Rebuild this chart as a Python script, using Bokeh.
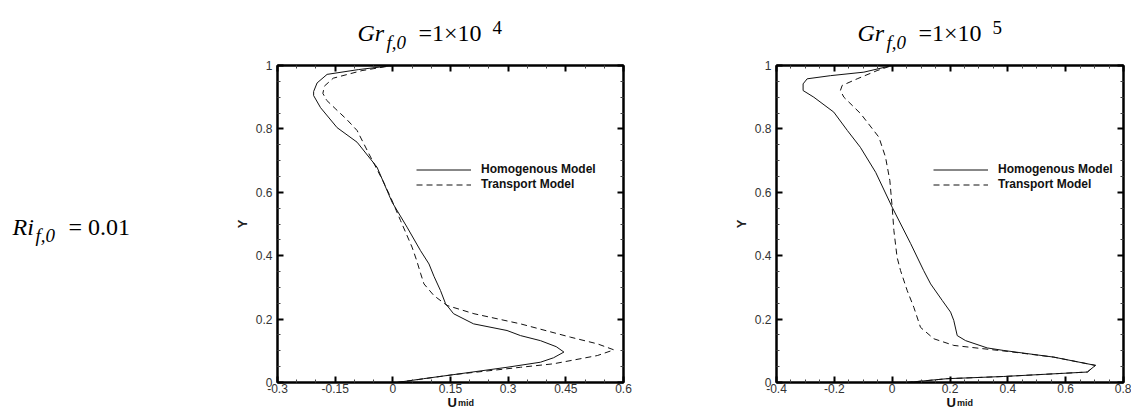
from bokeh.plotting import figure
from bokeh.models import (Range1d, FixedTicker, LinearAxis, CustomJSTickFormatter,
                          Legend, LegendItem)
from bokeh.layouts import row, column
from bokeh.core.properties import value
from bokeh.embed import file_html
from bokeh.resources import INLINE

# ---------------- data ----------------
LEFT_HOM_U = [0.01, 0.08, 0.159, 0.297, 0.384, 0.418, 0.445, 0.425, 0.384, 0.332, 0.297, 0.21,
              0.158, 0.137, 0.124, 0.107, 0.094, 0.072, 0.037, -0.002, -0.041, -0.093, -0.145,
              -0.188, -0.206, -0.206, -0.197, -0.171, -0.09, 0.0]
LEFT_HOM_Y = [0.0, 0.012, 0.025, 0.048, 0.064, 0.078, 0.096, 0.113, 0.132, 0.148, 0.164, 0.185,
              0.217, 0.249, 0.29, 0.335, 0.374, 0.416, 0.49, 0.569, 0.679, 0.758, 0.804,
              0.867, 0.905, 0.918, 0.945, 0.972, 0.987, 1.0]

LEFT_TRA_U = [0.011, 0.159, 0.332, 0.418, 0.532, 0.575, 0.532, 0.462, 0.332, 0.211, 0.141, 0.107,
              0.081, 0.072, 0.062, 0.05, 0.02, -0.006, -0.026, -0.062, -0.093, -0.12, -0.148,
              -0.172, -0.182, -0.178, -0.155, -0.08, 0.0]
LEFT_TRA_Y = [0.0, 0.025, 0.048, 0.059, 0.085, 0.103, 0.122, 0.143, 0.185, 0.217, 0.243, 0.274,
              0.311, 0.345, 0.385, 0.427, 0.511, 0.585, 0.637, 0.721, 0.795, 0.83, 0.862,
              0.89, 0.912, 0.935, 0.96, 0.984, 1.0]

RIGHT_HOM_U = [0.05, 0.19, 0.386, 0.675, 0.703, 0.559, 0.386, 0.329, 0.254, 0.225, 0.213, 0.202,
               0.173, 0.133, 0.109, 0.064, 0.0, -0.057, -0.11, -0.155, -0.202, -0.271, -0.308,
               -0.308, -0.294, -0.213, -0.098, 0.0]
RIGHT_HOM_Y = [0.0, 0.012, 0.019, 0.033, 0.054, 0.080, 0.101, 0.109, 0.132, 0.148, 0.196, 0.222,
               0.259, 0.311, 0.353, 0.438, 0.553, 0.663, 0.742, 0.795, 0.853, 0.90, 0.921,
               0.942, 0.958, 0.968, 0.979, 1.0]

RIGHT_TRA_U = [0.05, 0.19, 0.386, 0.675, 0.703, 0.559, 0.40, 0.30, 0.213, 0.144, 0.098, 0.075,
               0.052, 0.029, 0.017, 0.006, 0.0, -0.008, -0.023, -0.046, -0.109, -0.167, -0.179,
               -0.173, -0.121, -0.052, 0.0]
RIGHT_TRA_Y = [0.0, 0.012, 0.019, 0.033, 0.054, 0.080, 0.098, 0.108, 0.117, 0.138, 0.174, 0.237,
               0.29, 0.353, 0.395, 0.479, 0.553, 0.637, 0.711, 0.774, 0.848, 0.90, 0.921,
               0.937, 0.958, 0.984, 1.0]

SERIES_NAMES = ["Homogenous Model", "Transport Model"]

LEFT_X_TICKS = [-0.3, -0.15, 0, 0.15, 0.3, 0.45, 0.6]
LEFT_X_MINOR = [-0.25, -0.2, -0.1, -0.05, 0.05, 0.1, 0.2, 0.25, 0.35, 0.4, 0.5, 0.55]
RIGHT_X_TICKS = [-0.4, -0.2, 0, 0.2, 0.4, 0.6, 0.8]
RIGHT_X_MINOR = [-0.35, -0.3, -0.25, -0.15, -0.1, -0.05, 0.05, 0.1, 0.15, 0.25, 0.3, 0.35,
                 0.45, 0.5, 0.55, 0.65, 0.7, 0.75]
Y_TICKS = [0, 0.2, 0.4, 0.6, 0.8, 1]
Y_MINOR = [0.05, 0.1, 0.15, 0.25, 0.3, 0.35, 0.45, 0.5, 0.55, 0.65, 0.7, 0.75, 0.85, 0.9, 0.95]

TITLE_EXPONENTS = ["4", "5"]
RI_VALUE = "0.01"

SANS = "Liberation Sans"
SERIF = "Liberation Serif"
FMT = ("var s = tick.toFixed(2); s = s.replace(/0+$/, ''); s = s.replace(/\\.$/, '');"
       " if (s == '-0') s = '0'; return s;")

W, H = 1131, 410
TITLE_H = 60
MAIN_H = 338
OVERLAP = 8
FOOT_H = H - TITLE_H - MAIN_H + OVERLAP


def canvas(width, height, y_top, transparent=False):
    """A blank figure whose data coordinates equal page pixels (y downwards)."""
    c = figure(width=width, height=height, x_range=Range1d(0, width),
               y_range=Range1d(y_top + height, y_top), output_backend="svg",
               toolbar_location=None, x_axis_location=None, y_axis_location=None,
               min_border=0, title=None, outline_line_color=None)
    c.grid.visible = False
    if transparent:
        c.background_fill_alpha = 0
        c.border_fill_alpha = 0
    else:
        c.background_fill_color = "white"
        c.border_fill_color = "white"
    return c


def txt(c, x, y, t, size, font=SERIF, style="normal", color="black"):
    # y is the wanted baseline; compensate the gap between ascent and cap height
    px = float(size.replace("px", ""))
    k = 0.229 if font == SERIF else 0.19
    c.text(x=[x], y=[y - k * px], text=[t], text_font=value(font), text_font_size=value(size),
           text_font_style=style, text_color=color, text_baseline="alphabetic",
           text_align="left")


def style_axis(ax, ticks, minor, labels):
    ax.ticker = FixedTicker(ticks=ticks, minor_ticks=minor)
    ax.axis_line_color = "black"
    ax.axis_line_width = 2
    ax.major_tick_in = 6
    ax.major_tick_out = 0
    ax.major_tick_line_width = 2
    ax.major_tick_line_color = "black"
    ax.minor_tick_in = 3
    ax.minor_tick_out = 0
    ax.minor_tick_line_width = 1
    ax.minor_tick_line_color = "#444444"
    if labels:
        ax.formatter = CustomJSTickFormatter(code=FMT)
        ax.major_label_text_font = SANS
        ax.major_label_text_font_size = "12px"
        ax.major_label_text_color = "#333333"
    else:
        ax.formatter = CustomJSTickFormatter(code="return '';")
        ax.major_label_text_font_size = "0px"
        ax.major_label_standoff = 0


def make_panel(width, bl, br, xr, xticks, xminor, hom, tra, legend_loc):
    p = figure(width=width, height=MAIN_H, x_range=Range1d(*xr), y_range=Range1d(0, 1),
               output_backend="svg", toolbar_location=None, title=None,
               min_border_left=bl, min_border_right=br, min_border_top=5, min_border_bottom=16)
    p.grid.visible = False
    p.outline_line_color = "black"
    p.outline_line_width = 2
    p.background_fill_color = "white"
    p.border_fill_color = "white"

    xa = p.xaxis[0]
    ya = p.yaxis[0]
    style_axis(xa, xticks, xminor, True)
    xa.major_label_standoff = 1
    style_axis(ya, Y_TICKS, Y_MINOR, True)
    ya.major_label_standoff = 5
    ya.axis_label = "Y"
    ya.axis_label_text_font = SANS
    ya.axis_label_text_font_style = "bold"
    ya.axis_label_text_font_size = "13px"
    ya.axis_label_text_color = "#222222"
    ya.axis_label_standoff = 3

    top = LinearAxis()
    style_axis(top, xticks, xminor, False)
    p.add_layout(top, "above")
    right = LinearAxis()
    style_axis(right, Y_TICKS, Y_MINOR, False)
    p.add_layout(right, "right")

    r1 = p.line(hom[0], hom[1], line_color="#111111", line_width=1)
    r2 = p.line(tra[0], tra[1], line_color="#111111", line_width=1, line_dash="6 4")

    leg = Legend(items=[LegendItem(label=SERIES_NAMES[0], renderers=[r1]),
                        LegendItem(label=SERIES_NAMES[1], renderers=[r2])],
                 location=legend_loc, border_line_color=None, background_fill_alpha=0,
                 padding=0, margin=0, spacing=1, glyph_width=55, glyph_height=13,
                 label_height=13, label_standoff=10, label_text_font=SANS,
                 label_text_font_style="bold", label_text_font_size="12px",
                 label_text_color="#111111")
    p.add_layout(leg)
    return p


# ---- title strip ----
head = canvas(W, TITLE_H, 0)
for dx, ex in zip([0, 500], TITLE_EXPONENTS):
    txt(head, 357 + dx, 38, "Gr", "24px", style="italic")
    txt(head, 386 + dx, 46, "f,0", "19px", style="italic")
    txt(head, 418 + dx, 38, "=1\u00d710", "24px")
    txt(head, 492 + dx, 31, ex, "19px")

# ---- Ri text column ----
ri = canvas(230, MAIN_H, TITLE_H)
txt(ri, 12, 238, "Ri", "24px", style="italic")
txt(ri, 35, 246, "f,0", "19px", style="italic")
txt(ri, 68, 238, "= " + RI_VALUE, "24px")

# ---- the two plots ----
p1 = make_panel(470, 47, 77, (-0.3, 0.6), LEFT_X_TICKS, LEFT_X_MINOR,
                (LEFT_HOM_U, LEFT_HOM_Y), (LEFT_TRA_U, LEFT_TRA_Y), (139, 191))
p2 = make_panel(431, 76, 8, (-0.4, 0.8), RIGHT_X_TICKS, RIGHT_X_MINOR,
                (RIGHT_HOM_U, RIGHT_HOM_Y), (RIGHT_TRA_U, RIGHT_TRA_Y), (157, 191))

# ---- x-axis titles U_mid (transparent strip slightly overlapping the plots' bottom) ----
foot = canvas(W, FOOT_H, TITLE_H + MAIN_H - OVERLAP, transparent=True)
foot.margin = (-OVERLAP, 0, 0, 0)
for x0 in [447, 946]:
    txt(foot, x0, 404, "U", "13px", font=SANS, style="bold", color="#111111")
    txt(foot, x0 + 10.5, 404, "mid", "9px", font=SANS, style="bold", color="#111111")

layout = column(head, row(ri, p1, p2), foot)
open("out.html", "w").write(file_html(layout, INLINE))
